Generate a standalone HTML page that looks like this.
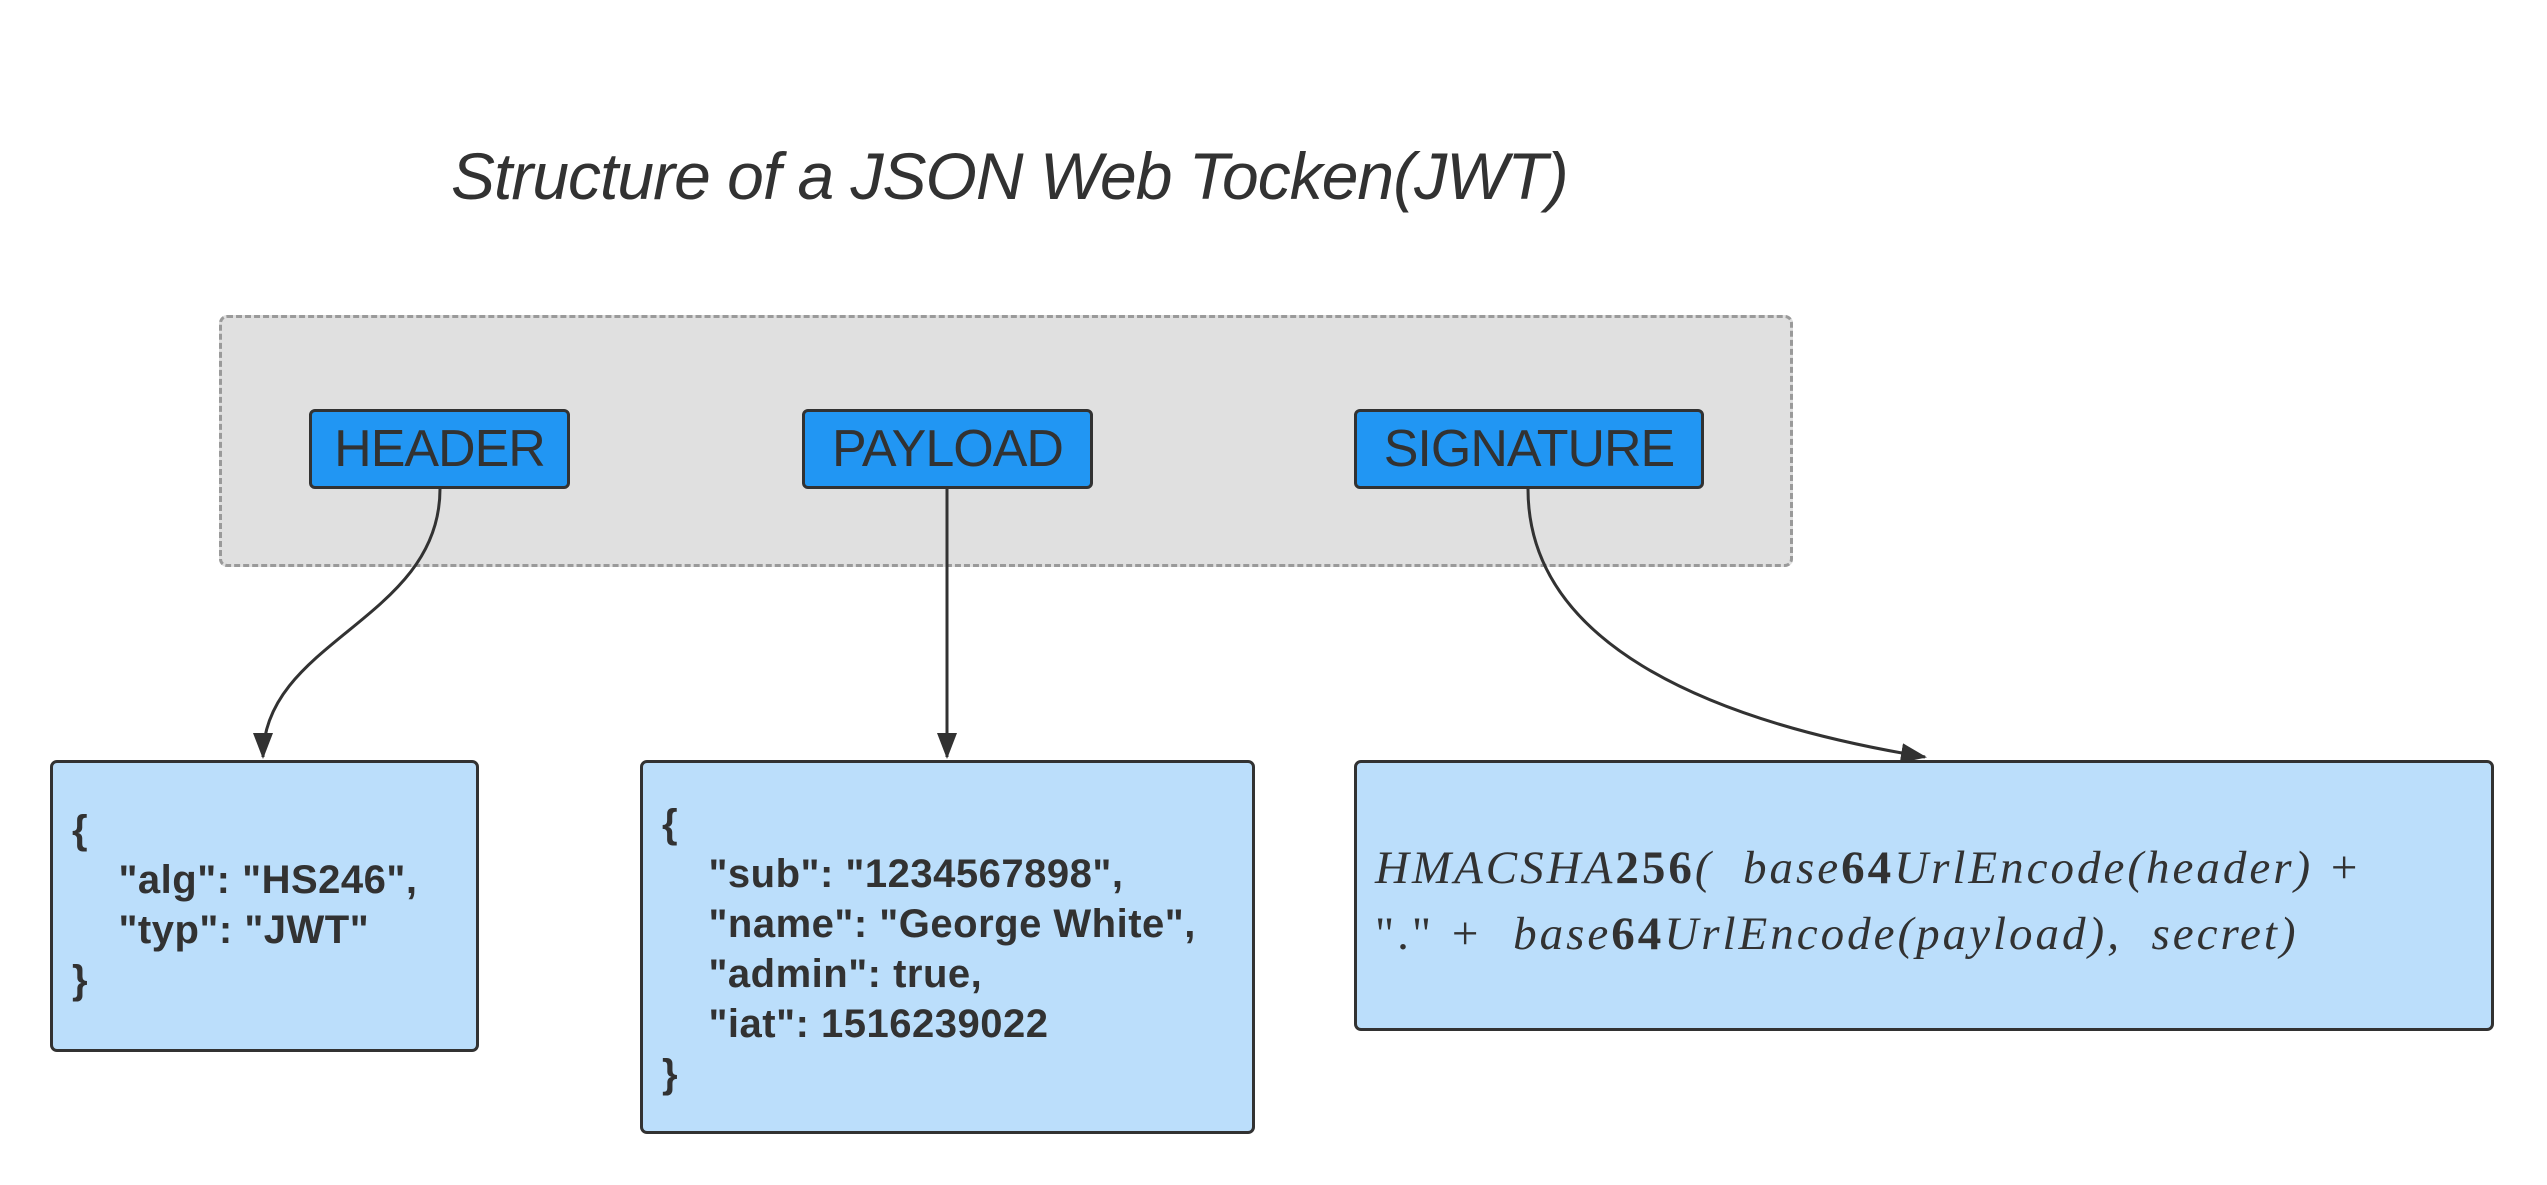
<!DOCTYPE html>
<html><head><meta charset="utf-8"><style>
html,body{margin:0;padding:0;background:#fff;}
body{width:2547px;height:1185px;position:relative;overflow:hidden;font-family:"Liberation Sans",sans-serif;color:#323232;}
.abs{position:absolute;box-sizing:border-box;}
.title{left:451px;top:138px;font-size:66px;font-style:italic;white-space:nowrap;letter-spacing:-1px;}
.group{left:219px;top:315px;width:1574px;height:252px;background:#e0e0e0;border:3px dashed #9a9a9a;border-radius:8px;}
.tag{background:#2196f3;border:3px solid #323232;border-radius:6px;top:409px;height:80px;font-size:52px;display:flex;align-items:center;justify-content:center;letter-spacing:-1px;}
.box{background:#bbdefb;border:3px solid #323232;border-radius:7px;top:760px;}
.code{font-weight:bold;font-size:40px;line-height:50px;white-space:pre;letter-spacing:0.5px;}
.math{font-family:"Liberation Serif",serif;font-style:italic;font-size:47px;line-height:66px;white-space:nowrap;letter-spacing:3px;}
</style></head><body>
<div class="abs title">Structure of a JSON Web Tocken(JWT)</div>
<div class="abs group"></div>
<div class="abs tag" style="left:309px;width:261px;">HEADER</div>
<div class="abs tag" style="left:802px;width:291px;">PAYLOAD</div>
<div class="abs tag" style="left:1354px;width:350px;">SIGNATURE</div>
<div class="abs box" style="left:50px;width:429px;height:292px;"><div class="code" style="position:absolute;left:19px;top:42px;">{
    "alg": "HS246",
    "typ": "JWT"
}</div></div>
<div class="abs box" style="left:640px;width:615px;height:374px;"><div class="code" style="position:absolute;left:19px;top:36px;">{
    "sub": "1234567898",
    "name": "George White",
    "admin": true,
    "iat": 1516239022
}</div></div>
<div class="abs box" style="left:1354px;width:1140px;height:271px;"><div class="math" style="position:absolute;left:18px;top:72px;">HMACSHA<b style="font-style:normal">256</b>(&nbsp; base<b style="font-style:normal">64</b>UrlEncode(header) +<br><span style="font-style:normal">"."</span> + &nbsp;base<b style="font-style:normal">64</b>UrlEncode(payload), &nbsp;secret)</div></div>
<svg class="abs" style="left:0;top:0" width="2547" height="1185">
<defs><marker id="b" markerWidth="26" markerHeight="20" refX="24" refY="10" orient="auto" markerUnits="userSpaceOnUse"><path d="M0,0 L26,10 L0,20 z" fill="#323232"/></marker></defs>
<path d="M440,489 C440,620 263,640 263,757" fill="none" stroke="#323232" stroke-width="3" marker-end="url(#b)"/>
<path d="M947,489 L947,757" fill="none" stroke="#323232" stroke-width="3" marker-end="url(#b)"/>
<path d="M1528,489 C1528,640 1700,720 1925,757" fill="none" stroke="#323232" stroke-width="3" marker-end="url(#b)"/>
</svg>
</body></html>
